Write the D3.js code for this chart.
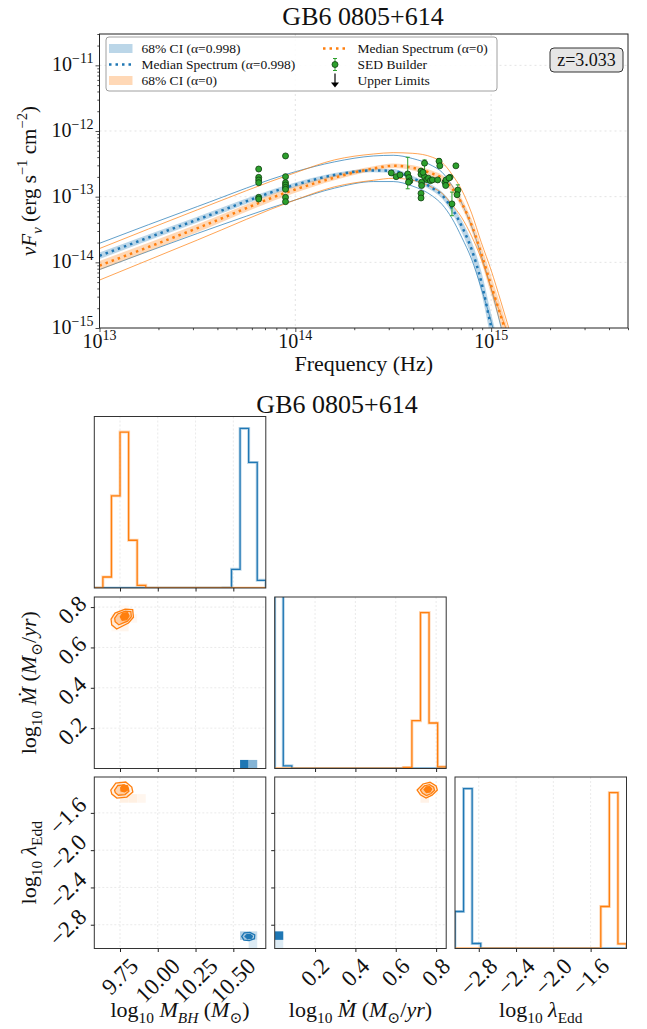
<!DOCTYPE html>
<html>
<head>
<meta charset="utf-8">
<script src="https://cdn.jsdelivr.net/npm/d3@7"></script>
<style>
  body { margin: 0; background: #fff; }
  text { font-family: 'Liberation Serif', 'DejaVu Serif', serif; fill: #111; }
</style>
</head>
<body>
<svg id="chart" width="647" height="1029"></svg>
<script>
// ---------------- SED data (log10 values) ----------------
const logNu = [13.0, 13.5, 14.0, 14.2, 14.4, 14.5, 14.6, 14.7, 14.75, 14.8, 14.85, 14.9, 14.95, 15.0, 15.05, 15.1, 15.15];
// alpha = 0.998 (blue)
const medianA998 = [-13.90, -13.35, -12.82, -12.67, -12.60, -12.61, -12.72, -12.87, -12.98, -13.18, -13.45, -13.80, -14.30, -14.98, -15.6, -16.2, -16.8];
const ciA998     = [0.05, 0.045, 0.035, 0.03, 0.03, 0.03, 0.035, 0.045, 0.05, 0.07, 0.09, 0.12, 0.16, 0.2, 0.22, 0.22, 0.22];
const upperA998  = [-13.71, -13.15, -12.62, -12.47, -12.38, -12.37, -12.42, -12.53, -12.63, -12.83, -13.10, -13.45, -13.90, -14.40, -14.98, -15.6, -16.2];
const lowerA998  = [-14.11, -13.56, -13.05, -12.87, -12.77, -12.77, -12.84, -12.99, -13.12, -13.33, -13.62, -13.95, -14.40, -14.90, -15.45, -16.0, -16.6];
// alpha = 0 (orange)
const medianA0 = [-14.05, -13.48, -12.89, -12.71, -12.57, -12.53, -12.56, -12.65, -12.72, -12.87, -13.10, -13.43, -13.87, -14.35, -14.82, -15.3, -15.8];
const ciA0     = [0.07, 0.06, 0.05, 0.04, 0.035, 0.035, 0.04, 0.045, 0.05, 0.06, 0.07, 0.09, 0.12, 0.14, 0.15, 0.15, 0.15];
const upperA0  = [-13.79, -13.20, -12.635, -12.44, -12.35, -12.33, -12.34, -12.40, -12.48, -12.66, -12.90, -13.25, -13.70, -14.12, -14.60, -15.10, -15.6];
const lowerA0  = [-14.27, -13.66, -13.05, -12.85, -12.75, -12.72, -12.75, -12.86, -12.95, -13.12, -13.32, -13.60, -13.95, -14.40, -14.80, -15.20, -15.6];

// SED Builder photometry
const sedNu = [13.813, 13.813, 13.813, 13.813, 13.813, 13.813,
  13.95, 13.95, 13.95, 13.95, 13.95, 13.95, 13.95, 13.95,
  14.49, 14.515, 14.535, 14.574, 14.58, 14.585, 14.578, 14.642, 14.642, 14.645, 14.645, 14.642, 14.642,
  14.66, 14.66, 14.652, 14.672, 14.68, 14.69, 14.70, 14.727, 14.734, 14.738, 14.764, 14.77, 14.768,
  14.79, 14.785, 14.80, 14.82, 14.83, 14.826];
const sedFlux = [-12.579, -12.706, -12.746, -12.787, -13.01, -13.036,
  -12.38, -12.695, -12.787, -12.822, -12.858, -12.888, -13.01, -13.076,
  -12.638, -12.695, -12.669, -12.654, -12.71, -12.76, -12.78, -12.61, -12.66, -12.78, -12.83, -12.95, -13.02,
  -12.49, -12.695, -12.63, -12.74, -12.72, -12.756, -12.745, -12.745, -12.46, -12.53, -12.78, -12.745, -12.83,
  -12.705, -12.715, -13.11, -12.53, -12.90, -12.97];
const errNu     = [14.574, 14.66, 14.734, 14.80, 14.83];
const errTop    = [-12.40, -12.44, -12.42, -12.93, -12.82];
const errBottom = [-12.88, -12.70, -12.50, -13.29, -12.98];

const redshift = "z=3.033";
const sourceName = "GB6 0805+614";

// ---------------- corner data ----------------
const rangeMbh = [9.58, 10.715];
const rangeMdot = [0.0, 0.85];
const rangeLam = [-3.055, -1.215];
const ticksMbh = [9.75, 10.0, 10.25, 10.5];
const ticksMdot = [0.2, 0.4, 0.6, 0.8];
const ticksLam = [-2.8, -2.4, -2.0, -1.6];

// 20-bin histograms
const histMbhA998  = [0, 0, 0, 0, 0, 0, 0, 0, 0, 0, 0, 0, 0, 0, 0, 1, 56, 478, 376, 23];
const histMbhA0    = [0, 33, 276, 467, 143, 8, 0, 0, 0, 0, 0, 0, 0, 0, 0, 0, 0, 0, 0, 0];
const histMdotA998 = [1900, 8, 0, 0, 0, 0, 0, 0, 0, 0, 0, 0, 0, 0, 0, 0, 0, 0, 0, 0];
const histMdotA0   = [0, 0, 0, 0, 0, 0, 0, 0, 0, 0, 0, 0, 0, 0, 0, 3, 143, 466, 136, 5];
const histLamA998  = [111, 480, 15, 0, 0, 0, 0, 0, 0, 0, 0, 0, 0, 0, 0, 0, 0, 0, 0, 0];
const histLamA0    = [0, 0, 0, 0, 0, 0, 0, 0, 0, 0, 0, 0, 0, 0, 0, 0, 0, 126, 468, 14];

// 2D density cells: [x bin, y bin, shade]
const cellsMdotMbhA998 = [[17, 0, 1.0], [18, 0, 0.55]];
const cellsMdotMbhA0   = [[2, 16, 0.05], [3, 16, 0.08], [2, 17, 0.1], [3, 17, 0.18], [4, 17, 0.06], [3, 18, 0.06]];
const cellsLamMbhA998  = [[17, 1, 0.35], [18, 1, 0.25], [18, 0, 0.15]];
const cellsLamMbhA0    = [[3, 17, 0.12], [4, 17, 0.12], [5, 17, 0.07], [3, 18, 0.12]];
const cellsLamMdotA998 = [[0, 1, 1.0], [0, 0, 0.15]];
const cellsLamMdotA0   = [[17, 17, 0.1], [17, 18, 0.12], [18, 18, 0.08]];

// contour rings (outer -> inner), data coordinates
const ringsMdotMbhA0 = [
  [[9.691, 0.740], [9.717, 0.770], [9.784, 0.790], [9.834, 0.787], [9.839, 0.750], [9.806, 0.721], [9.728, 0.691], [9.695, 0.712]],
  [[9.715, 0.745], [9.735, 0.766], [9.785, 0.780], [9.822, 0.778], [9.825, 0.752], [9.800, 0.730], [9.742, 0.712], [9.718, 0.728]],
  [[9.752, 0.752], [9.768, 0.770], [9.800, 0.772], [9.810, 0.756], [9.795, 0.738], [9.765, 0.735]]
];
const ringsLamMbhA0 = [
  [[9.689, -1.355], [9.722, -1.280], [9.788, -1.269], [9.828, -1.323], [9.835, -1.377], [9.795, -1.430], [9.729, -1.441], [9.696, -1.398]],
  [[9.714, -1.355], [9.736, -1.306], [9.779, -1.299], [9.805, -1.334], [9.809, -1.369], [9.783, -1.404], [9.740, -1.411], [9.719, -1.383]],
  [[9.755, -1.330], [9.770, -1.300], [9.800, -1.310], [9.805, -1.350], [9.780, -1.375], [9.757, -1.365]]
];
const ringsLamMdotA0 = [
  [[0.706, -1.355], [0.735, -1.290], [0.770, -1.272], [0.800, -1.310], [0.806, -1.355], [0.780, -1.410], [0.750, -1.441], [0.722, -1.405]],
  [[0.722, -1.355], [0.742, -1.310], [0.768, -1.298], [0.788, -1.325], [0.792, -1.358], [0.774, -1.395], [0.752, -1.415], [0.733, -1.390]],
  [[0.740, -1.350], [0.752, -1.322], [0.768, -1.318], [0.778, -1.345], [0.770, -1.375], [0.752, -1.382]]
];
const ringsLamMbhA998 = [
  [[10.556, -2.926], [10.572, -2.888], [10.610, -2.882], [10.642, -2.910], [10.640, -2.950], [10.605, -2.970], [10.570, -2.965]],
  [[10.578, -2.926], [10.590, -2.905], [10.612, -2.903], [10.626, -2.922], [10.620, -2.944], [10.595, -2.950]]
];

// ---------------- drawing ----------------
const C0 = "#1f77b4", C1 = "#ff7f0e", GREEN = "#2ca02c";
const svg = d3.select("#chart");
const defs = svg.append("defs");
const p10 = v => Math.pow(10, v);

// write mixed math text with sub/superscripts
function mathText(sel, parts, size) {
  let shift = 0;
  parts.forEach(p => {
    const ts = sel.append("tspan").text(p.t);
    const target = p.sub ? 0.28 * size : p.sup ? -0.42 * size : 0;
    if (target !== shift) { ts.attr("dy", target - shift); shift = target; }
    if (p.sub || p.sup) ts.attr("font-size", size * 0.7);
    if (p.it) ts.attr("font-style", "italic");
  });
}

// ===== SED panel =====
const sed = { left: 99.5, right: 628, top: 34, bottom: 328 };
const x = d3.scaleLog().domain([1e13, 5e15]).range([sed.left, sed.right]);
const y = d3.scaleLog().domain([1e-15, 3e-11]).range([sed.bottom, sed.top]);

defs.append("clipPath").attr("id", "sedclip").append("rect")
  .attr("x", sed.left).attr("y", sed.top)
  .attr("width", sed.right - sed.left).attr("height", sed.bottom - sed.top);

svg.append("text").attr("x", 363).attr("y", 25).attr("text-anchor", "middle")
  .attr("font-size", 26).text(sourceName);

// grid
const xMajor = [1e13, 1e14, 1e15];
const yMajor = [1e-15, 1e-14, 1e-13, 1e-12, 1e-11];
const grid = svg.append("g").attr("stroke", "#dcdcdc").attr("stroke-width", 0.8).attr("stroke-dasharray", "2,3");
grid.selectAll(".gx").data(xMajor.slice(1)).join("line")
  .attr("x1", d => x(d)).attr("x2", d => x(d)).attr("y1", sed.top).attr("y2", sed.bottom);
grid.selectAll(".gy").data(yMajor.slice(1)).join("line")
  .attr("x1", sed.left).attr("x2", sed.right).attr("y1", d => y(d)).attr("y2", d => y(d));

const plot = svg.append("g").attr("clip-path", "url(#sedclip)");
const pts = (arr) => logNu.map((v, i) => [p10(v), p10(arr[i])]);
const line = d3.line().x(d => x(d[0])).y(d => y(d[1])).curve(d3.curveMonotoneX);
const area = d3.area().x(d => x(d[0])).y0(d => y(d[1])).y1(d => y(d[2])).curve(d3.curveMonotoneX);

function drawModel(median, ci, upper, lower, color) {
  const band = logNu.map((v, i) => [p10(v), p10(median[i] - ci[i]), p10(median[i] + ci[i])]);
  plot.append("path").attr("d", area(band)).attr("fill", color).attr("fill-opacity", 0.3);
  plot.append("path").attr("d", line(pts(upper))).attr("fill", "none").attr("stroke", color)
    .attr("stroke-width", 1).attr("stroke-opacity", 0.7);
  plot.append("path").attr("d", line(pts(lower))).attr("fill", "none").attr("stroke", color)
    .attr("stroke-width", 1).attr("stroke-opacity", 0.7);
}
drawModel(medianA998, ciA998, upperA998, lowerA998, C0);
drawModel(medianA0, ciA0, upperA0, lowerA0, C1);
plot.append("path").attr("d", line(pts(medianA998))).attr("fill", "none").attr("stroke", C0)
  .attr("stroke-width", 2.5).attr("stroke-dasharray", "2.5,4");
plot.append("path").attr("d", line(pts(medianA0))).attr("fill", "none").attr("stroke", C1)
  .attr("stroke-width", 2.5).attr("stroke-dasharray", "2.5,4");

// error bars + points
const eb = plot.append("g").attr("stroke", GREEN).attr("stroke-width", 1);
errNu.forEach((v, i) => {
  const ex = x(p10(v));
  eb.append("line").attr("x1", ex).attr("x2", ex).attr("y1", y(p10(errTop[i]))).attr("y2", y(p10(errBottom[i])));
  [errTop[i], errBottom[i]].forEach(e => eb.append("line").attr("x1", ex - 2).attr("x2", ex + 2)
    .attr("y1", y(p10(e))).attr("y2", y(p10(e))));
});
plot.append("g").selectAll("circle").data(sedNu).join("circle")
  .attr("cx", d => x(p10(d))).attr("cy", (d, i) => y(p10(sedFlux[i]))).attr("r", 3)
  .attr("fill", GREEN).attr("stroke", "#103d10").attr("stroke-width", 0.8);

// axes
const xMinor = [], yMinor = [];
d3.range(13, 16).forEach(n => d3.range(2, 10).forEach(k => { const v = k * p10(n); if (v <= 5e15) xMinor.push(v); }));
d3.range(-15, -10).forEach(n => d3.range(2, 10).forEach(k => { const v = k * p10(n); if (v <= 3e-11) yMinor.push(v); }));

const gx = svg.append("g").attr("transform", `translate(0,${sed.bottom})`)
  .call(d3.axisBottom(x).tickValues(xMajor).tickSize(4).tickFormat(() => ""));
const gxm = svg.append("g").attr("transform", `translate(0,${sed.bottom})`)
  .call(d3.axisBottom(x).tickValues(xMinor).tickSize(2.2).tickFormat(() => ""));
const gy = svg.append("g").attr("transform", `translate(${sed.left},0)`)
  .call(d3.axisLeft(y).tickValues(yMajor).tickSize(4).tickFormat(() => ""));
const gym = svg.append("g").attr("transform", `translate(${sed.left},0)`)
  .call(d3.axisLeft(y).tickValues(yMinor).tickSize(2.2).tickFormat(() => ""));
[gx, gxm, gy, gym].forEach(g => { g.select(".domain").remove(); g.selectAll("line").attr("stroke", "#222").attr("stroke-width", 0.8); });

xMajor.forEach(v => {
  const t = svg.append("text").attr("x", x(v)).attr("y", sed.bottom + 20).attr("text-anchor", "middle").attr("font-size", 20);
  mathText(t, [{ t: "10" }, { t: String(Math.round(Math.log10(v))), sup: true }], 20);
});
yMajor.forEach(v => {
  const t = svg.append("text").attr("x", sed.left - 6).attr("y", y(v) + 6).attr("text-anchor", "end").attr("font-size", 20);
  mathText(t, [{ t: "10" }, { t: "\u2212" + String(-Math.round(Math.log10(v))), sup: true }], 20);
});

svg.append("rect").attr("x", sed.left).attr("y", sed.top)
  .attr("width", sed.right - sed.left).attr("height", sed.bottom - sed.top)
  .attr("fill", "none").attr("stroke", "#222").attr("stroke-width", 1);

svg.append("text").attr("x", (sed.left + sed.right) / 2).attr("y", 371).attr("text-anchor", "middle")
  .attr("font-size", 22).text("Frequency (Hz)");
const yl = svg.append("text").attr("transform", `translate(36,${(sed.top + sed.bottom) / 2}) rotate(-90)`)
  .attr("text-anchor", "middle").attr("font-size", 21);
mathText(yl, [{ t: "\u03bd", it: true }, { t: "F", it: true }, { t: "\u03bd", it: true, sub: true },
  { t: " (erg s" }, { t: "\u22121", sup: true }, { t: " cm" }, { t: "\u22122", sup: true }, { t: ")" }], 21);

// legend
const lg = svg.append("g");
lg.append("rect").attr("x", 106).attr("y", 37).attr("width", 391).attr("height", 54).attr("rx", 3)
  .attr("fill", "#fff").attr("fill-opacity", 0.85).attr("stroke", "#888").attr("stroke-width", 0.8);
const rowY = [48.5, 64.5, 80.5];
lg.append("rect").attr("x", 109).attr("y", rowY[0] - 4.5).attr("width", 23.5).attr("height", 9).attr("fill", C0).attr("fill-opacity", 0.3);
lg.append("line").attr("x1", 109).attr("x2", 132.5).attr("y1", rowY[1]).attr("y2", rowY[1])
  .attr("stroke", C0).attr("stroke-width", 2.5).attr("stroke-dasharray", "2.5,4");
lg.append("rect").attr("x", 109).attr("y", rowY[2] - 4.5).attr("width", 23.5).attr("height", 9).attr("fill", C1).attr("fill-opacity", 0.3);
lg.append("line").attr("x1", 323).attr("x2", 346.5).attr("y1", rowY[0]).attr("y2", rowY[0])
  .attr("stroke", C1).attr("stroke-width", 2.5).attr("stroke-dasharray", "2.5,4");
lg.append("line").attr("x1", 335).attr("x2", 335).attr("y1", rowY[1] - 6).attr("y2", rowY[1] + 6).attr("stroke", GREEN);
lg.append("line").attr("x1", 333).attr("x2", 337).attr("y1", rowY[1] - 6).attr("y2", rowY[1] - 6).attr("stroke", GREEN);
lg.append("line").attr("x1", 333).attr("x2", 337).attr("y1", rowY[1] + 6).attr("y2", rowY[1] + 6).attr("stroke", GREEN);
lg.append("circle").attr("cx", 335).attr("cy", rowY[1]).attr("r", 3).attr("fill", GREEN).attr("stroke", "#103d10").attr("stroke-width", 0.8);
lg.append("line").attr("x1", 335).attr("x2", 335).attr("y1", rowY[2] - 7).attr("y2", rowY[2] + 5).attr("stroke", "#000").attr("stroke-width", 1.2);
lg.append("path").attr("d", `M331,${rowY[2] + 2} L335,${rowY[2] + 7} L339,${rowY[2] + 2} Z`).attr("fill", "#000");
const legendText = [["68% CI (\u03b1=0.998)", 141.5, 0], ["Median Spectrum (\u03b1=0.998)", 141.5, 1], ["68% CI (\u03b1=0)", 141.5, 2],
  ["Median Spectrum (\u03b1=0)", 357.5, 0], ["SED Builder", 357.5, 1], ["Upper Limits", 357.5, 2]];
legendText.forEach(d => lg.append("text").attr("x", d[1]).attr("y", rowY[d[2]] + 4.5).attr("font-size", 13.5).text(d[0]));

// redshift box
svg.append("rect").attr("x", 550).attr("y", 48).attr("width", 73).attr("height", 24).attr("rx", 4)
  .attr("fill", "#e6e6e6").attr("stroke", "#333").attr("stroke-width", 1);
svg.append("text").attr("x", 586.5).attr("y", 66).attr("text-anchor", "middle").attr("font-size", 18).text(redshift);

// ===== corner plot =====
svg.append("text").attr("x", 337).attr("y", 413).attr("text-anchor", "middle").attr("font-size", 26).text(sourceName);

const colX = [94.3, 274.7, 455], rowTop = [416.5, 597, 777], cs = 171.5;
const params = [
  { range: rangeMbh, ticks: ticksMbh, fmt: d3.format(".2f"), hA998: histMbhA998, hA0: histMbhA0,
    label: [{ t: "log" }, { t: "10", sub: true }, { t: " " }, { t: "M", it: true }, { t: "BH", it: true, sub: true }, { t: " (" }, { t: "M", it: true }, { t: "\u2299", sub: true }, { t: ")" }] },
  { range: rangeMdot, ticks: ticksMdot, fmt: d3.format(".1f"), hA998: histMdotA998, hA0: histMdotA0,
    label: [{ t: "log" }, { t: "10", sub: true }, { t: " " }, { t: "\u1e40", it: true }, { t: " (" }, { t: "M", it: true }, { t: "\u2299", sub: true }, { t: "/" }, { t: "yr", it: true }, { t: ")" }] },
  { range: rangeLam, ticks: ticksLam, fmt: d3.format(".1f"), hA998: histLamA998, hA0: histLamA0,
    label: [{ t: "log" }, { t: "10", sub: true }, { t: " " }, { t: "\u03bb", it: true }, { t: "Edd", sub: true }] }
];
const cells = {
  "10": [cellsMdotMbhA998, cellsMdotMbhA0], "20": [cellsLamMbhA998, cellsLamMbhA0], "21": [cellsLamMdotA998, cellsLamMdotA0]
};
const rings = {
  "10": [[], ringsMdotMbhA0], "20": [ringsLamMbhA998, ringsLamMbhA0], "21": [[], ringsLamMdotA0]
};
const tickFs = 23;
const nBins = 20;
const edges = r => d3.range(nBins + 1).map(k => r[0] + k * (r[1] - r[0]) / nBins);

function rotTick(g, txt, cx, cy, side) {
  const t = g.append("text").attr("font-size", tickFs).attr("text-anchor", "middle")
    .attr("dominant-baseline", "central").text(txt);
  const w = t.node().getComputedTextLength();
  const box = (w + tickFs * 0.7) / Math.SQRT2;
  const px = side === "bottom" ? cx : cx - box / 2;
  const py = side === "bottom" ? cy + box / 2 : cy;
  t.attr("transform", `translate(${px},${py}) rotate(-45)`);
}

for (let i = 0; i < 3; i++) {
  for (let j = 0; j <= i; j++) {
    const x0 = colX[j], y0 = rowTop[i];
    const px = d3.scaleLinear().domain(params[j].range).range([x0, x0 + cs]);
    const id = `clip${i}${j}`;
    defs.append("clipPath").attr("id", id).append("rect").attr("x", x0).attr("y", y0).attr("width", cs).attr("height", cs);
    const g = svg.append("g");
    const inner = g.append("g").attr("clip-path", `url(#${id})`);
    let py;
    if (i === j) {
      py = d3.scaleLinear().domain([0, 1.1 * d3.max(params[j].hA0)]).range([y0 + cs, y0]);
    } else {
      py = d3.scaleLinear().domain(params[i].range).range([y0 + cs, y0]);
    }
    // grid
    const gg = inner.append("g").attr("stroke", "#e4e4e4").attr("stroke-width", 0.8).attr("stroke-dasharray", "2,2");
    params[j].ticks.forEach(v => gg.append("line").attr("x1", px(v)).attr("x2", px(v)).attr("y1", y0).attr("y2", y0 + cs));
    if (i !== j) params[i].ticks.forEach(v => gg.append("line").attr("y1", py(v)).attr("y2", py(v)).attr("x1", x0).attr("x2", x0 + cs));

    if (i === j) {
      const e = edges(params[j].range);
      const stepLine = d3.line().x(d => px(d[0])).y(d => py(d[1])).curve(d3.curveStepAfter);
      [[params[j].hA998, C0], [params[j].hA0, C1]].forEach(([h, col]) => {
        const pts = [[e[0], 0]].concat(h.map((c, k) => [e[k], c]), [[e[nBins], h[nBins - 1]], [e[nBins], 0]]);
        inner.append("path").attr("d", stepLine(pts)).attr("fill", "none").attr("stroke", col)
          .attr("stroke-width", 3).attr("stroke-opacity", 0.3);
        inner.append("path").attr("d", stepLine(pts)).attr("fill", "none").attr("stroke", col).attr("stroke-width", 1.3);
      });
    } else {
      const ex = edges(params[j].range), ey = edges(params[i].range);
      const key = `${i}${j}`;
      [[cells[key][0], C0], [cells[key][1], C1]].forEach(([cl, col]) => {
        inner.append("g").selectAll("rect").data(cl).join("rect")
          .attr("x", d => px(ex[d[0]])).attr("width", d => px(ex[d[0] + 1]) - px(ex[d[0]]))
          .attr("y", d => py(ey[d[1] + 1])).attr("height", d => py(ey[d[1]]) - py(ey[d[1] + 1]))
          .attr("fill", d => d3.interpolateRgb("#ffffff", col)(d[2]));
      });
      const ringLine = d3.line().x(d => px(d[0])).y(d => py(d[1])).curve(d3.curveLinearClosed);
      [[rings[key][0], C0], [rings[key][1], C1]].forEach(([rs, col]) => {
        rs.forEach((r, k) => {
          const last = k === rs.length - 1;
          inner.append("path").attr("d", ringLine(r))
            .attr("fill", col).attr("fill-opacity", last ? 1 : 0.1 + 0.15 * k)
            .attr("stroke", col).attr("stroke-width", 1.3);
        });
      });
    }
    // frame
    g.append("rect").attr("x", x0).attr("y", y0).attr("width", cs).attr("height", cs)
      .attr("fill", "none").attr("stroke", "#333").attr("stroke-width", 1);
    // bottom ticks
    const bt = g.append("g").attr("transform", `translate(0,${y0 + cs})`)
      .call(d3.axisBottom(px).tickValues(params[j].ticks).tickSize(3.5).tickFormat(() => ""));
    bt.select(".domain").remove();
    bt.selectAll("line").attr("stroke", "#222");
    if (i === 2) params[j].ticks.forEach(v => rotTick(g, params[j].fmt(v), px(v), y0 + cs + 8, "bottom"));
    // left ticks for 2D panels
    if (i !== j) {
      const lt = g.append("g").attr("transform", `translate(${x0},0)`)
        .call(d3.axisLeft(py).tickValues(params[i].ticks).tickSize(3.5).tickFormat(() => ""));
      lt.select(".domain").remove();
      lt.selectAll("line").attr("stroke", "#222");
      if (j === 0) params[i].ticks.forEach(v => rotTick(g, params[i].fmt(v), x0 - 6, py(v) + 3, "left"));
    }
  }
}

// corner axis labels
params.forEach((p, j) => {
  const t = svg.append("text").attr("x", colX[j] + cs / 2).attr("y", 1017).attr("text-anchor", "middle").attr("font-size", 22);
  mathText(t, p.label, 22);
});
[1, 2].forEach(i => {
  const t = svg.append("text").attr("transform", `translate(36,${rowTop[i] + cs / 2}) rotate(-90)`)
    .attr("text-anchor", "middle").attr("font-size", 22);
  mathText(t, params[i].label, 22);
});
</script>
</body>
</html>
